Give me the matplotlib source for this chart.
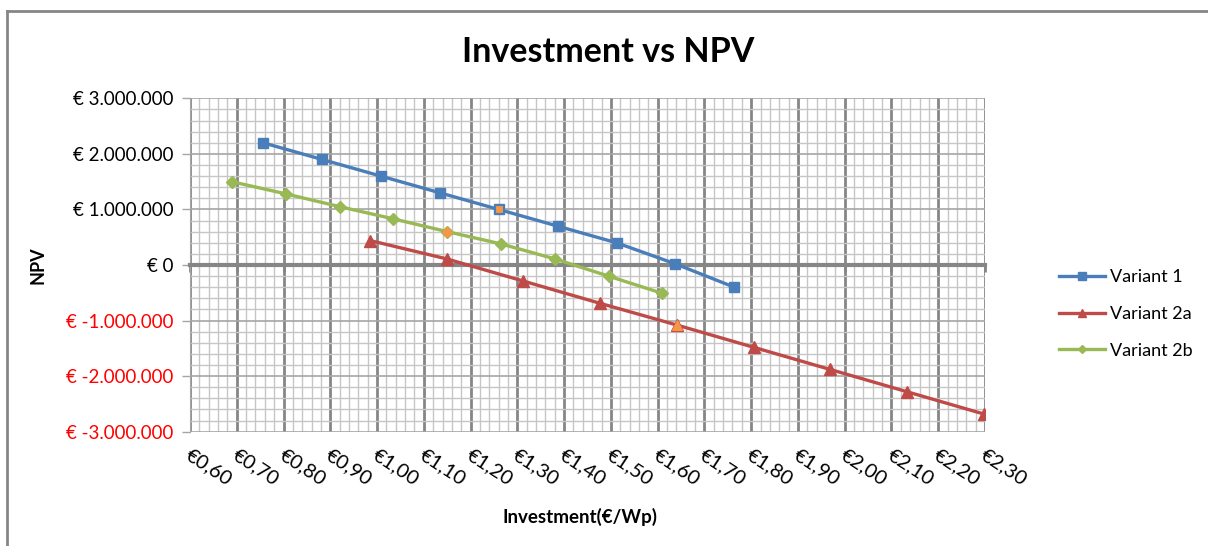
import numpy as np
import matplotlib
matplotlib.use("Agg")
import matplotlib.pyplot as plt
from matplotlib.lines import Line2D
from matplotlib.ticker import MultipleLocator, FuncFormatter

plt.rcParams["font.family"] = ["Lato", "DejaVu Sans"]

# investment (EUR/Wp) and NPV (EUR) per variant
v1_x = [0.756, 0.882, 1.008, 1.134, 1.260, 1.386, 1.512, 1.638, 1.764]
v1_y = [2200000, 1900000, 1600000, 1300000, 1000000, 700000, 400000, 20000, -400000]

v2a_x = [0.985, 1.149, 1.313, 1.477, 1.641, 1.805, 1.969, 2.133, 2.297]
v2a_y = [440000, 110000, -290000, -690000, -1080000, -1480000, -1880000, -2280000, -2680000]

v2b_x = [0.689, 0.805, 0.920, 1.035, 1.150, 1.265, 1.380, 1.495, 1.610]
v2b_y = [1500000, 1280000, 1050000, 830000, 600000, 380000, 110000, -200000, -510000]

highlight = 4  # orange-marked point in each series

x_ticks = np.round(np.arange(0.6, 2.31, 0.1), 2)
y_ticks = np.arange(-3000000, 3000001, 1000000)

BLUE, RED, GREEN, ORANGE = "#4A7EBB", "#BE4B48", "#98B954", "#F79646"

fig = plt.figure(figsize=(12.08, 5.46), dpi=100)
ax = fig.add_axes([0.1573, 0.2093, 0.6581, 0.6107])

ax.set_xlim(0.6, 2.3)
ax.set_ylim(-3000000, 3000000)
ax.xaxis.set_major_locator(MultipleLocator(0.1))
ax.xaxis.set_minor_locator(MultipleLocator(0.02))
ax.yaxis.set_major_locator(MultipleLocator(1000000))
ax.yaxis.set_minor_locator(MultipleLocator(200000))

ax.grid(which="minor", color="#c6c6c6", lw=1.0)
ax.grid(which="major", axis="y", color="#a6a6a6", lw=1.2)
ax.grid(which="major", axis="x", color="#868686", lw=2.0)
ax.set_axisbelow(True)

for s in ("top", "right"):
    ax.spines[s].set_visible(False)
ax.spines["left"].set_color("#a6a6a6")
ax.spines["bottom"].set_position(("data", 0))
ax.spines["bottom"].set_color("#868686")
ax.spines["bottom"].set_linewidth(3)
ax.tick_params(axis="x", which="major", direction="out", length=5, width=2,
               color="#868686", labelbottom=False)
ax.tick_params(axis="x", which="minor", length=0)
ax.tick_params(axis="y", which="major", direction="out", length=6, width=1,
               color="#a6a6a6", labelsize=13.5, pad=6)
ax.tick_params(axis="y", which="minor", length=0)

ax.yaxis.set_major_formatter(FuncFormatter(
    lambda v, p: "€ " + f"{v:,.0f}".replace(",", ".")))
ax.set_yticks(y_ticks)
for lab, v in zip(ax.get_yticklabels(), y_ticks):
    if v < 0:
        lab.set_color("#ff0000")

for xt in x_ticks:
    ax.text(xt - 0.006, -0.065, "€" + f"{xt:.2f}".replace(".", ","),
            transform=ax.get_xaxis_transform(), rotation=-33,
            rotation_mode="anchor", ha="left", va="center", fontsize=14.5)

series = [
    (v1_x, v1_y, BLUE, "s", 7.5, "Variant 1"),
    (v2a_x, v2a_y, RED, "^", 8, "Variant 2a"),
    (v2b_x, v2b_y, GREEN, "D", 6.5, "Variant 2b"),
]
handles = []
for xs, ys, col, mk, ms, name in series:
    ax.plot(xs, ys, color=col, lw=2.4, marker=mk, ms=ms, zorder=3)
    ax.plot(xs[highlight], ys[highlight], ls="none", marker=mk, ms=ms - 1.5,
            color=ORANGE, mec=col if mk == "s" else ORANGE, mew=0.8, zorder=4)
    handles.append(Line2D([], [], color=col, lw=2.4, marker=mk, ms=ms - 2, label=name))

ax.set_title("Investment vs NPV", x=0.526, fontsize=24.5, fontweight="bold", pad=26)
ax.set_ylabel("NPV", fontsize=13, fontweight="bold", labelpad=14)
fig.text(0.48, 0.042, "Investment(€/Wp)", fontsize=13.5, fontweight="bold", ha="center")

fig.legend(handles=handles, loc="center left", bbox_to_anchor=(0.877, 0.425),
           frameon=False, fontsize=13, handlelength=2.5, labelspacing=1.15,
           handletextpad=0.3, borderpad=0, borderaxespad=0)

# chart-area border (left and top only visible in the original)
fig.add_artist(Line2D([0.006, 0.006], [0, 0.980], color="#868686", lw=2))
fig.add_artist(Line2D([0.006, 1.0], [0.980, 0.980], color="#868686", lw=2))

fig.savefig("out.png", dpi=100)
